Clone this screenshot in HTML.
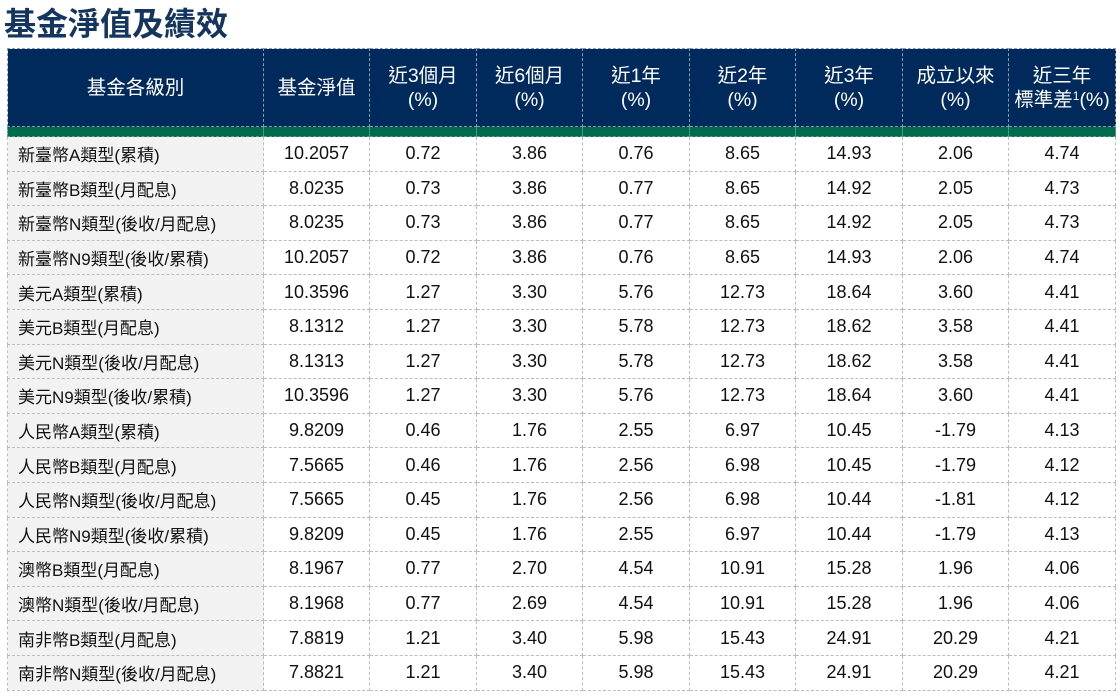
<!DOCTYPE html>
<html><head><meta charset="utf-8"><style>
body{margin:0;width:1120px;height:696px;background:#fff;overflow:hidden;font-family:"Liberation Sans","Noto Sans CJK TC",sans-serif;}
h1{position:absolute;left:4px;top:2px;margin:0;font-size:32px;font-weight:bold;color:#14365e;font-family:"Noto Sans CJK TC",sans-serif;line-height:40px}
table{position:absolute;left:7px;top:48px;border-collapse:collapse;table-layout:fixed;}
td,th{padding:0;text-align:center;border:1px dashed #bdbdbd;font-weight:normal;}
th{background:#002a5c;color:#fff;font-size:19.5px;line-height:24px;height:77px;border-color:#8a9ab0;}
tr.g td{background:#006a4e;height:9px;border-color:#5a9a85}
td{height:33.6px;font-size:18px;color:#111;}
td.n{background:#f2f2f2;text-align:left;padding-left:10px;font-size:17px}
sup{font-size:12px;vertical-align:6px;line-height:0}
</style></head><body>
<h1>基金淨值及績效</h1>
<table>
<colgroup><col style="width:256px"><col style="width:106px"><col style="width:107px"><col style="width:106px"><col style="width:107px"><col style="width:106px"><col style="width:107px"><col style="width:106px"><col style="width:107px"></colgroup>
<tr><th>基金各級別</th><th>基金淨值</th><th>近3個月<br>(%)</th><th>近6個月<br>(%)</th><th>近1年<br>(%)</th><th>近2年<br>(%)</th><th>近3年<br>(%)</th><th>成立以來<br>(%)</th><th>近三年<br>標準差<sup>1</sup>(%)</th></tr>
<tr class="g"><td></td><td></td><td></td><td></td><td></td><td></td><td></td><td></td><td></td></tr>
<tr><td class="n">新臺幣A類型(累積)</td><td>10.2057</td><td>0.72</td><td>3.86</td><td>0.76</td><td>8.65</td><td>14.93</td><td>2.06</td><td>4.74</td></tr>
<tr><td class="n">新臺幣B類型(月配息)</td><td>8.0235</td><td>0.73</td><td>3.86</td><td>0.77</td><td>8.65</td><td>14.92</td><td>2.05</td><td>4.73</td></tr>
<tr><td class="n">新臺幣N類型(後收/月配息)</td><td>8.0235</td><td>0.73</td><td>3.86</td><td>0.77</td><td>8.65</td><td>14.92</td><td>2.05</td><td>4.73</td></tr>
<tr><td class="n">新臺幣N9類型(後收/累積)</td><td>10.2057</td><td>0.72</td><td>3.86</td><td>0.76</td><td>8.65</td><td>14.93</td><td>2.06</td><td>4.74</td></tr>
<tr><td class="n">美元A類型(累積)</td><td>10.3596</td><td>1.27</td><td>3.30</td><td>5.76</td><td>12.73</td><td>18.64</td><td>3.60</td><td>4.41</td></tr>
<tr><td class="n">美元B類型(月配息)</td><td>8.1312</td><td>1.27</td><td>3.30</td><td>5.78</td><td>12.73</td><td>18.62</td><td>3.58</td><td>4.41</td></tr>
<tr><td class="n">美元N類型(後收/月配息)</td><td>8.1313</td><td>1.27</td><td>3.30</td><td>5.78</td><td>12.73</td><td>18.62</td><td>3.58</td><td>4.41</td></tr>
<tr><td class="n">美元N9類型(後收/累積)</td><td>10.3596</td><td>1.27</td><td>3.30</td><td>5.76</td><td>12.73</td><td>18.64</td><td>3.60</td><td>4.41</td></tr>
<tr><td class="n">人民幣A類型(累積)</td><td>9.8209</td><td>0.46</td><td>1.76</td><td>2.55</td><td>6.97</td><td>10.45</td><td>-1.79</td><td>4.13</td></tr>
<tr><td class="n">人民幣B類型(月配息)</td><td>7.5665</td><td>0.46</td><td>1.76</td><td>2.56</td><td>6.98</td><td>10.45</td><td>-1.79</td><td>4.12</td></tr>
<tr><td class="n">人民幣N類型(後收/月配息)</td><td>7.5665</td><td>0.45</td><td>1.76</td><td>2.56</td><td>6.98</td><td>10.44</td><td>-1.81</td><td>4.12</td></tr>
<tr><td class="n">人民幣N9類型(後收/累積)</td><td>9.8209</td><td>0.45</td><td>1.76</td><td>2.55</td><td>6.97</td><td>10.44</td><td>-1.79</td><td>4.13</td></tr>
<tr><td class="n">澳幣B類型(月配息)</td><td>8.1967</td><td>0.77</td><td>2.70</td><td>4.54</td><td>10.91</td><td>15.28</td><td>1.96</td><td>4.06</td></tr>
<tr><td class="n">澳幣N類型(後收/月配息)</td><td>8.1968</td><td>0.77</td><td>2.69</td><td>4.54</td><td>10.91</td><td>15.28</td><td>1.96</td><td>4.06</td></tr>
<tr><td class="n">南非幣B類型(月配息)</td><td>7.8819</td><td>1.21</td><td>3.40</td><td>5.98</td><td>15.43</td><td>24.91</td><td>20.29</td><td>4.21</td></tr>
<tr><td class="n">南非幣N類型(後收/月配息)</td><td>7.8821</td><td>1.21</td><td>3.40</td><td>5.98</td><td>15.43</td><td>24.91</td><td>20.29</td><td>4.21</td></tr>
</table>
</body></html>
